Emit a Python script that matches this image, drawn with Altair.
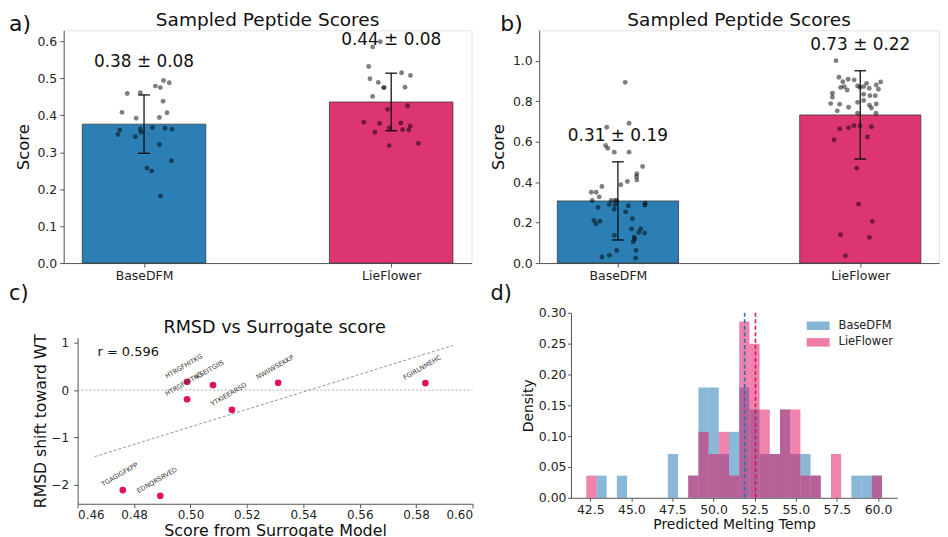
import altair as alt
import pandas as pd

FONT = "DejaVu Sans"
MODELS = ["BaseDFM", "LieFlower"]
BAR_FILL = ["#2b7fb5", "#dd3571"]
HIST_COLORS = ["#1f77b4", "#e0115f"]
POINT_COLOR = "#e0115f"

# ---------------- panel a : sampled peptide scores (small set)
a_means = [0.376, 0.436]
a_stds = [0.079, 0.078]
a_base_vals = [0.459, 0.461, 0.479, 0.475, 0.494, 0.488, 0.438, 0.408, 0.407, 0.392, 0.394, 0.360,
               0.348, 0.342, 0.354, 0.363, 0.367, 0.365, 0.362, 0.321, 0.277, 0.257, 0.249, 0.181]
a_base_jit = [-0.068, -0.015, 0.046, 0.066, 0.079, 0.102, 0.077, -0.089, 0.093, -0.032, 0.062, -0.098,
              -0.106, -0.035, -0.012, -0.015, 0.034, 0.085, 0.113, 0.062, 0.111, 0.012, 0.031, 0.067]
a_lie_vals = [0.585, 0.599, 0.532, 0.499, 0.489, 0.475, 0.475, 0.515, 0.508, 0.476, 0.451, 0.416,
              0.426, 0.381, 0.378, 0.379, 0.371, 0.366, 0.354, 0.361, 0.360, 0.318, 0.324]
a_lie_jit = [-0.075, -0.044, -0.091, -0.086, -0.052, -0.031, -0.028, 0.042, 0.078, 0.056, -0.075, -0.015,
             0.066, -0.111, -0.047, 0.039, 0.077, -0.008, -0.066, 0.046, 0.071, -0.008, 0.110]

# ---------------- panel b : sampled peptide scores (large set)
b_means = [0.307, 0.732]
b_stds = [0.193, 0.218]
b_base_vals = [0.893, 0.691, 0.671, 0.581, 0.567, 0.548, 0.548, 0.477, 0.441, 0.428, 0.411, 0.403,
               0.387, 0.378, 0.350, 0.350, 0.327, 0.309, 0.309, 0.311, 0.308, 0.296, 0.286, 0.289,
               0.289, 0.283, 0.266, 0.275, 0.253, 0.211, 0.207, 0.194, 0.219, 0.168, 0.168, 0.151,
               0.148, 0.137, 0.128, 0.118, 0.105, 0.0625, 0.0625, 0.038, 0.030, 0.025]
b_base_jit = [0.030, 0.046, -0.046, -0.051, -0.042, -0.015, 0.046, 0.102, 0.078, 0.077, 0.078, 0.039,
              0.012, -0.066, -0.110, -0.090, -0.077, -0.106, -0.028, -0.012, -0.005, 0.113, 0.111, -0.036,
              -0.012, 0.043, -0.016, -0.082, 0.032, -0.099, -0.074, -0.091, 0.060, 0.056, 0.094, 0.086,
              0.110, -0.015, 0.067, 0.069, 0.063, -0.005, 0.075, -0.035, -0.066, 0.073]
b_lie_vals = [1.000, 0.918, 0.908, 0.905, 0.896, 0.895, 0.880, 0.872, 0.868, 0.875, 0.872, 0.864,
              0.855, 0.859, 0.839, 0.834, 0.827, 0.827, 0.819, 0.803, 0.794, 0.788, 0.785, 0.786,
              0.780, 0.770, 0.766, 0.752, 0.740, 0.740, 0.663, 0.669, 0.679, 0.679, 0.674, 0.609,
              0.623, 0.469, 0.291, 0.206, 0.140, 0.127, 0.036, 0.868, 0.888]
b_lie_jit = [-0.100, -0.088, -0.050, -0.025, -0.072, 0.084, 0.066, -0.066, -0.081, -0.011, 0.014, 0.037,
             -0.054, 0.075, -0.115, 0.014, 0.040, 0.062, -0.115, 0.014, -0.011, -0.122, -0.085, 0.066,
             0.038, -0.048, 0.046, -0.095, -0.011, 0.065, -0.085, -0.048, -0.026, -0.001, 0.046, -0.108,
             0.030, -0.014, -0.007, 0.050, -0.081, 0.038, -0.061, -0.001, 0.026]

# ---------------- panel c : RMSD vs surrogate score
c_seq = ["HTRGFHITKG", "HTRGFHITKG", "KSEITGIIS", "YTKIEEARSD", "NWIIWSEKKP", "FGIRLNMEHC",
         "TGAGIGFKPP", "EDNQRSRVED"]
c_score = [0.4988, 0.4988, 0.508, 0.5147, 0.5311, 0.5833, 0.476, 0.4893]
c_rmsd = [0.175, -0.196, 0.105, -0.42, 0.154, 0.147, -2.12, -2.24]
c_r_text = "r = 0.596"

# ---------------- panel d : predicted melting temperature histograms
d_edges = [42.26, 42.88, 43.50, 44.12, 44.74, 45.36, 45.98, 46.60, 47.22, 47.84, 48.46, 49.08,
           49.70, 50.32, 50.94, 51.56, 52.18, 52.80, 53.42, 54.04, 54.66, 55.28, 55.90, 56.52,
           57.14, 57.76, 58.38, 59.00, 59.62, 60.24]
d_base_dens = [0, 0.036, 0, 0.036, 0, 0, 0, 0, 0.071, 0, 0.036, 0.179, 0.179, 0.071, 0.107,
               0.179, 0.143, 0.071, 0.071, 0.143, 0.071, 0.071, 0.036, 0, 0, 0, 0.036, 0.036, 0.036]
d_lie_dens = [0.036, 0, 0, 0, 0, 0, 0, 0, 0, 0, 0.036, 0.107, 0.071, 0.107, 0.036,
              0.286, 0.250, 0.143, 0.071, 0.143, 0.143, 0.036, 0.036, 0, 0.071, 0, 0, 0, 0.036]
d_means = [51.89, 52.55]

AX = dict(labelFont=FONT, titleFont=FONT, grid=False, titleFontWeight="normal")


def text_layer(txt, x, y, size, align="left", baseline="alphabetic", color="#111"):
    return alt.Chart(pd.DataFrame({"t": [txt]})).mark_text(
        align=align, baseline=baseline, fontSize=size, font=FONT, color=color
    ).encode(x=alt.value(x), y=alt.value(y), text="t:N")


def bar_panel(letter, letter_x, means, stds, vals, jits, ymax, yticks, label_dy, width, height):
    summary = pd.DataFrame({
        "idx": [0, 1], "mean": means, "std": stds, "fill": BAR_FILL,
        "label": [f"{m:.2f} ± {s:.2f}" for m, s in zip(means, stds)],
    })
    rows = []
    for i, (vs, js) in enumerate(zip(vals, jits)):
        for v, j in zip(vs, js):
            rows.append({"idx": i, "jit": j, "val": v})
    pts = pd.DataFrame(rows)
    xs = alt.Scale(domain=[-0.325, 1.325], nice=False, zero=False)
    ys = alt.Scale(domain=[0, ymax], nice=False, zero=False)
    label_expr = "[" + ",".join(f"'{m}'" for m in MODELS) + "][datum.value]"
    xa = alt.Axis(values=[0, 1], labelExpr=label_expr, title=None, labelFontSize=12.5,
                  tickSize=4, labelPadding=3, **AX)
    ya = alt.Axis(values=yticks, format=".1f", title="Score", titleFontSize=16.6, labelFontSize=12.5,
                  tickSize=4, labelPadding=3, titlePadding=6, **AX)

    def X(f):
        return alt.X(f, scale=xs, axis=xa)

    def Y(f):
        return alt.Y(f, scale=ys, axis=ya)

    bars = alt.Chart(summary).transform_calculate(
        x0="datum.idx - 0.25", x1="datum.idx + 0.25", z="0"
    ).mark_rect(stroke="#2b2b2b", strokeWidth=0.7).encode(
        x=X("x0:Q"), x2="x1:Q", y=Y("mean:Q"), y2="z:Q", fill=alt.Fill("fill:N", scale=None)
    )
    points = alt.Chart(pts).transform_calculate(px="datum.idx + datum.jit").mark_circle(
        color="black", opacity=0.5, size=24
    ).encode(x=X("px:Q"), y=Y("val:Q"))
    errs = alt.Chart(summary).transform_calculate(
        lo="datum.mean - datum.std", hi="datum.mean + datum.std",
        c0="datum.idx - 0.024", c1="datum.idx + 0.024"
    )
    err_rule = errs.mark_rule(color="black", strokeWidth=1.2).encode(x=X("idx:Q"), y=Y("lo:Q"), y2="hi:Q")
    cap_lo = errs.mark_rule(color="black", strokeWidth=1.2).encode(x=X("c0:Q"), x2="c1:Q", y=Y("lo:Q"))
    cap_hi = errs.mark_rule(color="black", strokeWidth=1.2).encode(x=X("c0:Q"), x2="c1:Q", y=Y("hi:Q"))
    lab = errs.mark_text(fontSize=17, dy=label_dy, baseline="middle", font=FONT, color="#111").encode(
        x=X("idx:Q"), y=Y("hi:Q"), text="label:N"
    )
    title = text_layer("Sampled Peptide Scores", width / 2, -4, 18.6, align="center")
    let = text_layer(letter, letter_x, 0.5, 22)
    return alt.layer(bars, points, err_rule, cap_lo, cap_hi, lab, title, let).properties(
        width=width, height=height, view=alt.ViewBackground(stroke="#e4e4e4", strokeWidth=1)
    )


panel_a = bar_panel("a)", -55, a_means, a_stds, [a_base_vals, a_lie_vals], [a_base_jit, a_lie_jit],
                    0.63, [0, 0.1, 0.2, 0.3, 0.4, 0.5, 0.6], -33, 410, 234)
panel_b = bar_panel("b)", -39, b_means, b_stds, [b_base_vals, b_lie_vals], [b_base_jit, b_lie_jit],
                    1.15, [0, 0.2, 0.4, 0.6, 0.8, 1.0], -25.6, 402, 234)

# ---------------- panel c
c_df = pd.DataFrame({"seq": c_seq, "x": c_score, "y": c_rmsd})
C_W, C_H = 411, 192
cxs = alt.Scale(domain=[0.46, 0.60], range=[14, C_W], nice=False, zero=False)
cys = alt.Scale(domain=[-2.41, 1.11], range=[C_H, 25], nice=False, zero=False)
cxa = alt.Axis(values=[0.46, 0.48, 0.50, 0.52, 0.54, 0.56, 0.58, 0.60], format=".2f",
               title="Score from Surrogate Model", titleFontSize=16, labelFontSize=12,
               tickSize=4, labelPadding=1.5, titlePadding=2, **AX)
cya = alt.Axis(values=[-2, -1, 0, 1], format="d", labelExpr="replace(datum.label, '-', '−')",
               title="RMSD shift toward WT", titleFontSize=15.7, labelFontSize=12, offset=-14,
               tickSize=4, labelPadding=5, titlePadding=3, **AX)

zero_line = alt.Chart(pd.DataFrame({"ref": [0.0]})).mark_rule(
    color="#999", strokeDash=[2, 2], strokeWidth=0.8
).encode(y=alt.Y("ref:Q", scale=cys, axis=cya), x=alt.XDatum(0.46, scale=cxs, axis=cxa), x2=alt.X2Datum(0.60))
reg = alt.Chart(c_df).transform_regression("x", "y", extent=[0.466, 0.593]).mark_line(
    color="#888", strokeDash=[3, 2], strokeWidth=0.9
).encode(x=alt.X("x:Q", scale=cxs, axis=cxa), y=alt.Y("y:Q", scale=cys, axis=cya))
c_pts = alt.Chart(c_df).mark_circle(size=45, color=POINT_COLOR, opacity=1).encode(
    x=alt.X("x:Q", scale=cxs, axis=cxa), y=alt.Y("y:Q", scale=cys, axis=cya)
)
c_lab = alt.Chart(c_df).mark_text(angle=330, fontSize=6.5, dx=5, dy=-15, color="#333", font=FONT).encode(
    x=alt.X("x:Q", scale=cxs, axis=cxa), y=alt.Y("y:Q", scale=cys, axis=cya), text="seq:N"
)
panel_c = alt.layer(
    zero_line, reg, c_pts, c_lab,
    text_layer(c_r_text, 34, 43.3, 13),
    text_layer("RMSD vs Surrogate score", 212, 20.8, 17.7, align="center"),
    text_layer("c)", -55, -12.4, 21),
).properties(width=C_W, height=C_H)

# ---------------- panel d
hist_rows = []
for name, dens in zip(MODELS, [d_base_dens, d_lie_dens]):
    for i, d in enumerate(dens):
        if d > 0:
            hist_rows.append({"series": name, "lo": d_edges[i], "hi": d_edges[i + 1], "dens": d})
hist_df = pd.DataFrame(hist_rows)
D_W, D_H = 328, 186
dxs = alt.Scale(domain=[41.33, 61.17], nice=False, zero=False)
dys = alt.Scale(domain=[0, 0.30], nice=False, zero=False)
dxa = alt.Axis(values=[42.5, 45.0, 47.5, 50.0, 52.5, 55.0, 57.5, 60.0], format=".1f",
               title="Predicted Melting Temp", titleFontSize=14, labelFontSize=12.5,
               tickSize=3.5, labelPadding=2, titlePadding=2, **AX)
dya = alt.Axis(values=[0, 0.05, 0.10, 0.15, 0.20, 0.25, 0.30], format=".2f", title="Density",
               titleFontSize=14, labelFontSize=12.5, tickSize=3.5, labelPadding=1.5, titlePadding=3, **AX)
dcs = alt.Scale(domain=MODELS, range=HIST_COLORS)
hist = alt.Chart(hist_df).transform_calculate(z="0").mark_rect(opacity=0.52).encode(
    x=alt.X("lo:Q", scale=dxs, axis=dxa), x2="hi:Q",
    y=alt.Y("dens:Q", scale=dys, axis=dya), y2="z:Q",
    color=alt.Color("series:N", scale=dcs, legend=alt.Legend(
        orient="none", legendX=242.5, legendY=7, title=None, padding=0,
        symbolType="M-1.92,-0.71H1.92V0.71H-1.92Z", symbolSize=144, symbolStrokeWidth=0,
        symbolOpacity=0.55, labelFontSize=11.5, labelOffset=14.5, rowPadding=4.7,
        labelFont=FONT, labelColor="#222")),
)
mean_rules = alt.Chart(pd.DataFrame({"series": MODELS, "mean": d_means})).mark_rule(
    strokeDash=[4, 2.5], strokeWidth=1.6
).encode(x=alt.X("mean:Q", scale=dxs, axis=dxa),
         stroke=alt.Stroke("series:N", scale=alt.Scale(domain=MODELS, range=HIST_COLORS), legend=None))
panel_d = alt.layer(hist, mean_rules, text_layer("d)", -81, -12.4, 21)).properties(width=D_W, height=D_H)

row1 = alt.hconcat(panel_a, panel_b, spacing=17)
row2 = alt.hconcat(panel_c, panel_d, spacing=17).resolve_scale(
    color="independent", stroke="independent"
).resolve_legend(color="independent", stroke="independent")
chart = alt.vconcat(row1, row2, spacing=0).properties(
    padding={"left": 0, "top": 1, "right": 0, "bottom": 0}
).resolve_scale(color="independent", stroke="independent").resolve_legend(
    color="independent", stroke="independent"
).configure_view(stroke=None).configure_axis(
    labelColor="#222", titleColor="#111", domainColor="#555", tickColor="#555"
)

chart.save("out.html", embed_options={"renderer": "svg", "actions": False})
